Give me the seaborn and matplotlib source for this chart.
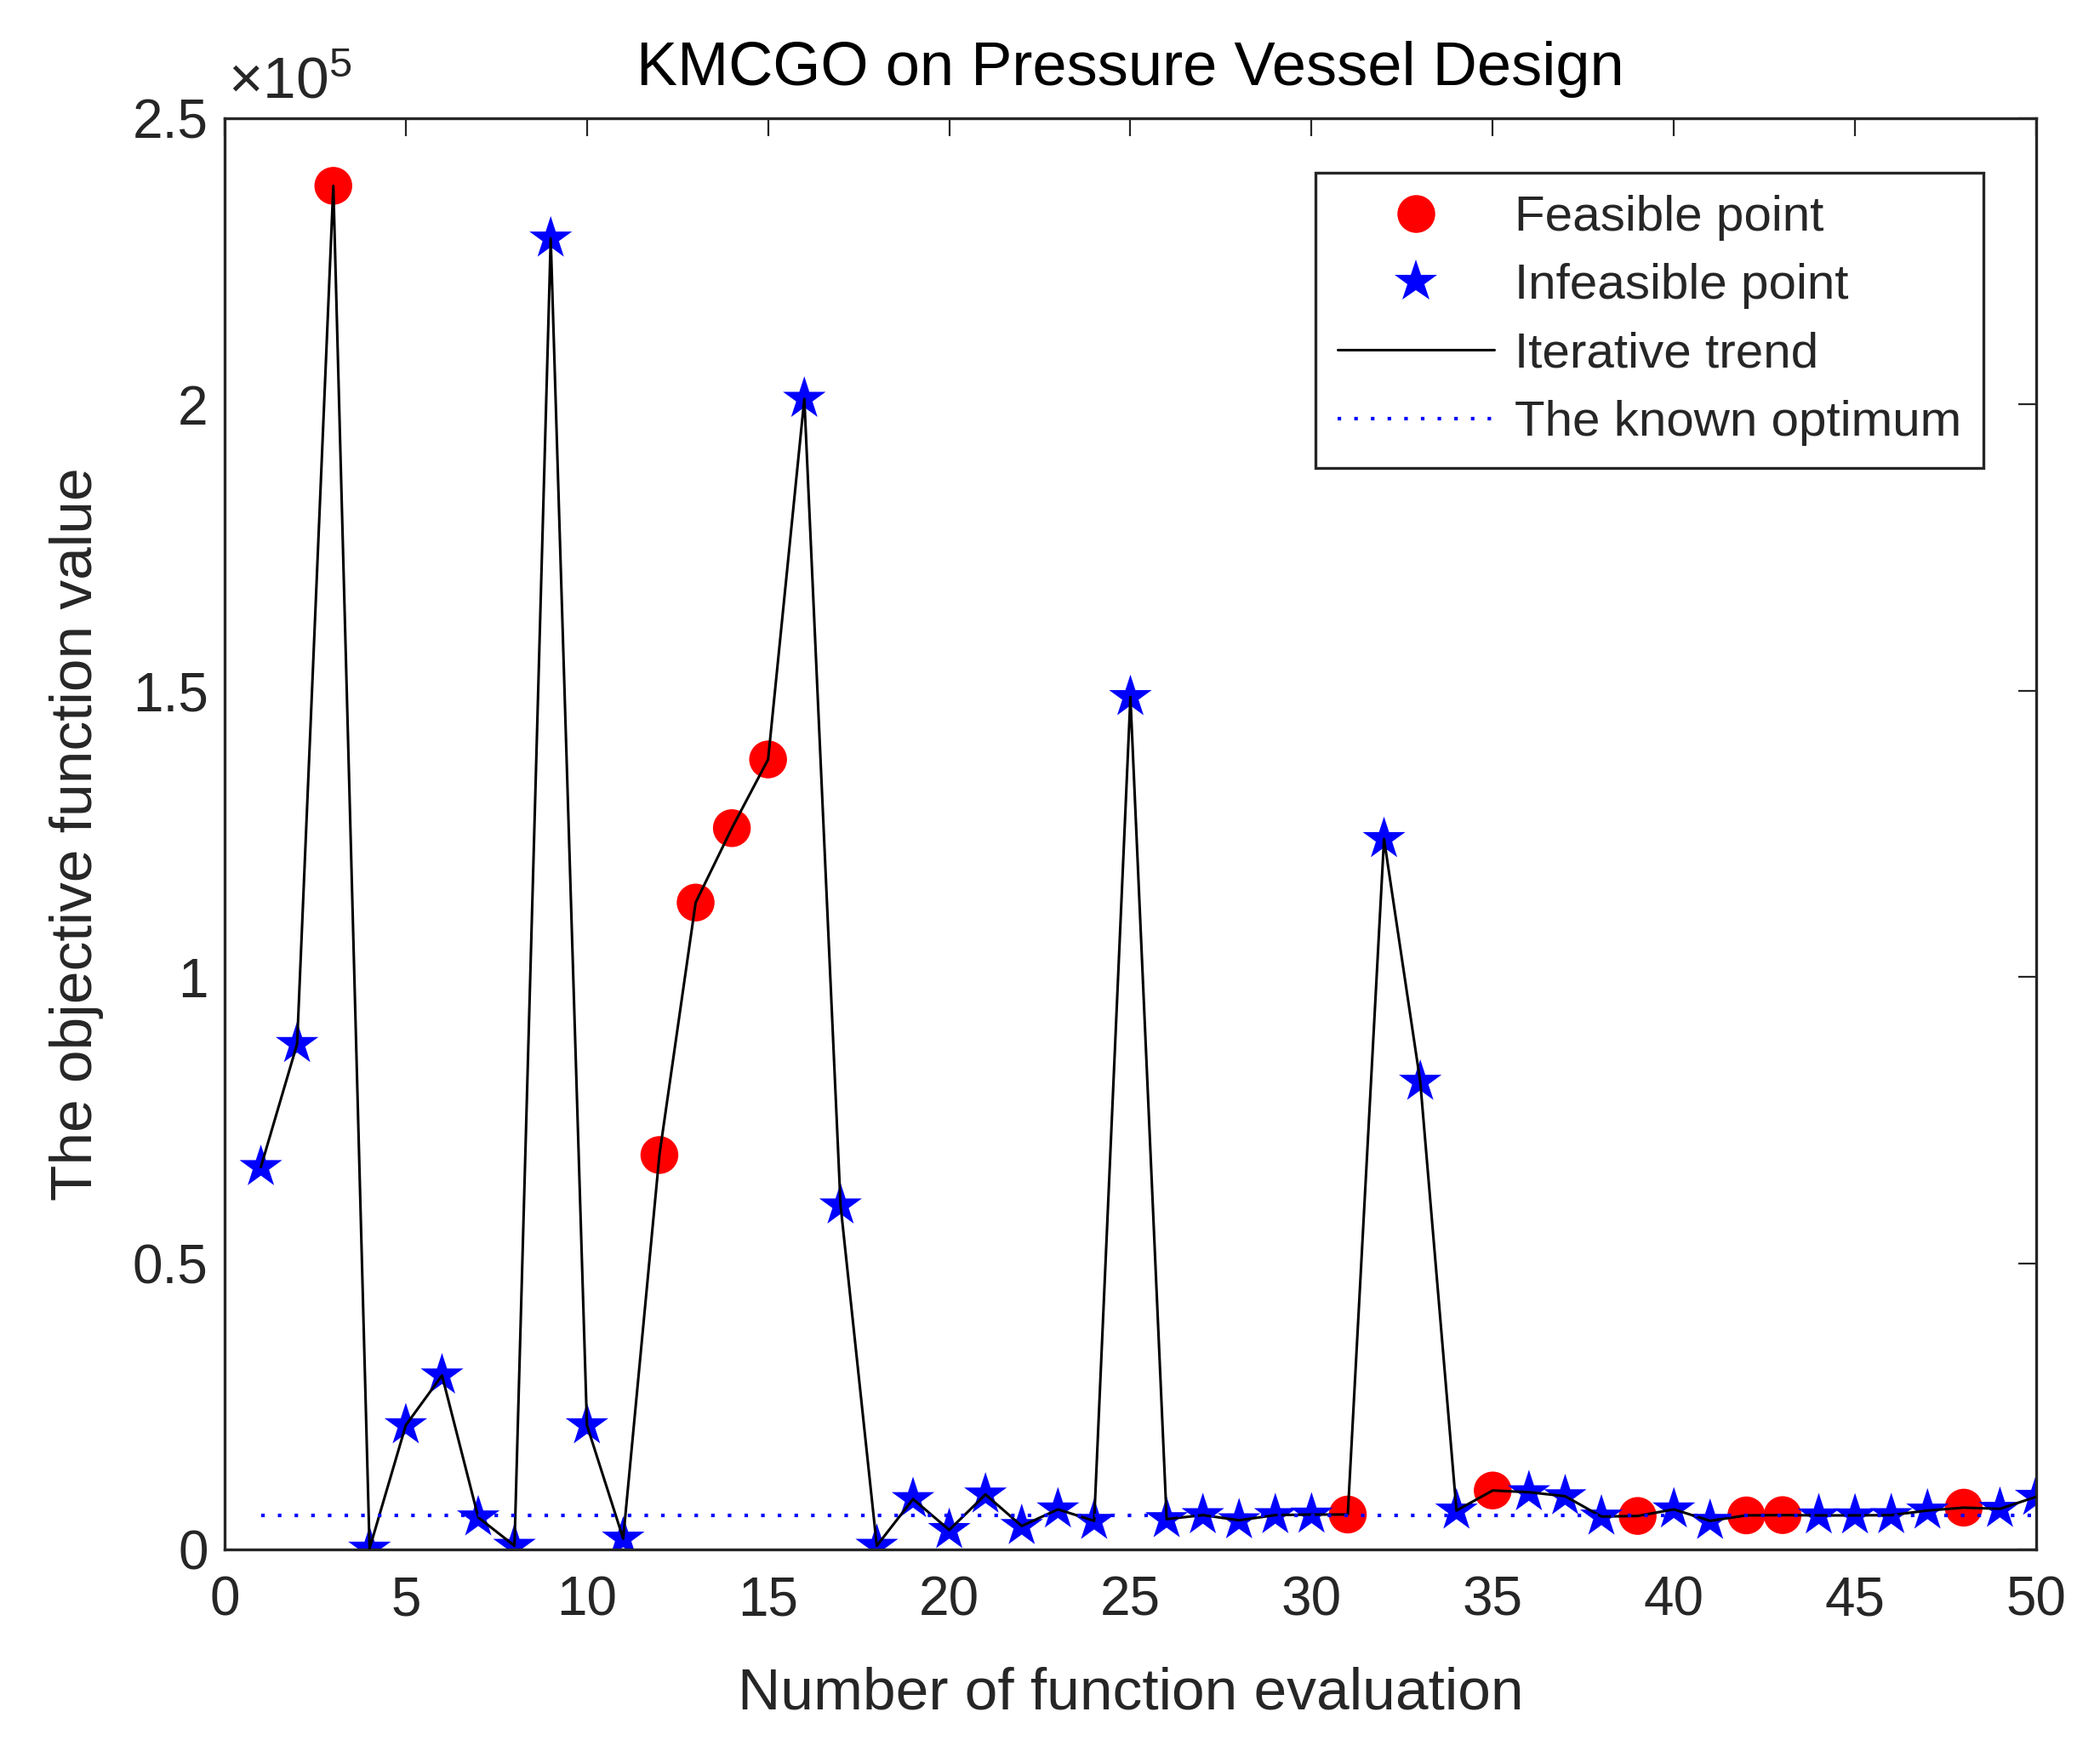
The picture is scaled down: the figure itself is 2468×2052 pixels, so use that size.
import numpy as np
import pandas as pd
import seaborn as sns
import matplotlib
matplotlib.use("Agg")
import matplotlib.pyplot as plt
from matplotlib.ticker import FuncFormatter
from matplotlib.lines import Line2D

# objective value at each function evaluation
evaluation = list(range(1, 51))
objective = [66800, 88300, 238200, 150, 21700, 30400, 5600, 640, 229000, 21700,
             1900, 68900, 113000, 126000, 138000, 201000, 60100, 640, 8800, 3400,
             9600, 4100, 7000, 5000, 148900, 5300, 6000, 5100, 6000, 6100,
             6100, 124100, 81700, 6800, 10300, 10000, 9300, 5750, 5850, 7000,
             5000, 5950, 6000, 5950, 5950, 6000, 6800, 7300, 7100, 9200]
feasible_evals = [3, 12, 13, 14, 15, 31, 35, 39, 42, 43, 48]
known_optimum = 5885.33

x_ticks = [0, 5, 10, 15, 20, 25, 30, 35, 40, 45, 50]
y_ticks = [0, 50000, 100000, 150000, 200000, 250000]

df = pd.DataFrame({'evaluation': evaluation, 'objective': objective})
df['feasible'] = df.evaluation.isin(feasible_evals)

sns.set_theme(style="white")
plt.rcParams['font.family'] = ['Liberation Sans', 'DejaVu Sans']
plt.rcParams['mathtext.fontset'] = 'custom'
plt.rcParams['mathtext.rm'] = 'Liberation Sans'
plt.rcParams['mathtext.it'] = 'Liberation Sans'
ink = '#262626'

fig = plt.figure(figsize=(12.34, 10.26), dpi=200)
ax = fig.add_axes([0.10697, 0.11257, 0.86264, 0.81969])

feas = df[df.feasible]
infeas = df[~df.feasible]
sns.scatterplot(data=feas, x='evaluation', y='objective', ax=ax, marker='o',
                s=16 ** 2, color='red', edgecolor='none', linewidth=0, zorder=2)
sns.scatterplot(data=infeas, x='evaluation', y='objective', ax=ax, marker='*',
                s=19 ** 2, color='blue', edgecolor='none', linewidth=0, zorder=2)
sns.lineplot(data=df, x='evaluation', y='objective', ax=ax, color='black',
             lw=1.1, sort=False, estimator=None, zorder=3)
ax.plot([evaluation[0], evaluation[-1]], [known_optimum, known_optimum],
        color='blue', lw=1.5, linestyle=(0, (1, 3.7)), zorder=4)

ax.set_xlim(0, 50)
ax.set_ylim(0, 250000)
ax.set_xticks(x_ticks)
ax.set_yticks(y_ticks)
ax.yaxis.set_major_formatter(FuncFormatter(lambda v, p: '%g' % (v / 1e5)))
ax.tick_params(direction='in', length=7.7, width=0.8, colors=ink,
               labelsize=23, top=True, right=True, pad=7)
ax.tick_params(axis='x', pad=11)
for sp in ax.spines.values():
    sp.set_linewidth(1.2)
    sp.set_color(ink)

# exponent label written MATLAB-style above the y axis
ax.text(0.002, 1.006, r'$\times10^{5}$', transform=ax.transAxes,
        ha='left', va='bottom', fontsize=25, color=ink)

ax.set_title('KMCGO on Pressure Vessel Design', fontsize=26, color='black', pad=14)
ax.set_xlabel('Number of function evaluation', fontsize=25, color=ink, labelpad=17)
ax.set_ylabel('The objective function value', fontsize=25, color=ink, labelpad=12)

handles = [
    Line2D([], [], marker='o', color='red', markersize=16, linestyle='none', markeredgewidth=0),
    Line2D([], [], marker='*', color='blue', markersize=19, linestyle='none', markeredgewidth=0),
    Line2D([], [], color='black', lw=1.1),
    Line2D([], [], color='blue', lw=1.5, linestyle=(0, (1, 3.7))),
]
labels = ['Feasible point', 'Infeasible point', 'Iterative trend', 'The known optimum']
leg = ax.legend(handles, labels, loc='upper right', bbox_to_anchor=(0.9709, 0.962),
                borderaxespad=0, fontsize=21, handlelength=3.15, handletextpad=0.4,
                labelspacing=0.45, borderpad=0.45, fancybox=False, framealpha=1,
                edgecolor=ink)
leg.get_frame().set_linewidth(1.2)

fig.savefig('out.png', dpi=200)
